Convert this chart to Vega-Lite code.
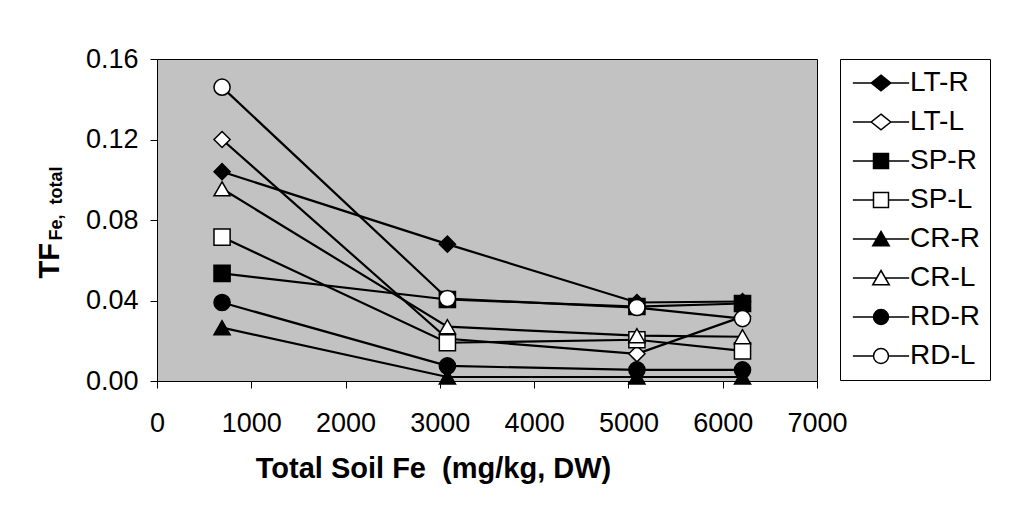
{
  "$schema": "https://vega.github.io/schema/vega-lite/v6.json",
  "width": 660,
  "height": 322,
  "autosize": {"type": "none"},
  "padding": {"left": 157, "top": 59, "right": 195, "bottom": 126},
  "background": "white",
  "config": {
    "font": "Liberation Sans",
    "view": {"stroke": "black", "strokeWidth": 1, "fill": "#c2c2c2"},
    "axis": {"grid": false, "domainColor": "black", "tickColor": "black", "labelColor": "black", "titleColor": "black", "labelFont": "Liberation Sans", "titleFont": "Liberation Sans"},
    "legend": {"strokeColor": "black", "fillColor": "white", "padding": 10, "labelFont": "Liberation Sans", "labelFontSize": 28, "labelColor": "black", "symbolSize": 225, "symbolOffset": 17, "labelOffset": 15, "rowPadding": 11, "offset": 23, "symbolOpacity": 1, "symbolStrokeWidth": 1.5}
  },
  "data": {
    "values": [
      {"series": "LT-R", "fe": 690, "tf": 0.104},
      {"series": "LT-R", "fe": 3080, "tf": 0.068},
      {"series": "LT-R", "fe": 5090, "tf": 0.039},
      {"series": "LT-R", "fe": 6210, "tf": 0.0395},
      {"series": "LT-L", "fe": 690, "tf": 0.120},
      {"series": "LT-L", "fe": 3080, "tf": 0.021},
      {"series": "LT-L", "fe": 5090, "tf": 0.0135},
      {"series": "LT-L", "fe": 6210, "tf": 0.032},
      {"series": "SP-R", "fe": 690, "tf": 0.0535},
      {"series": "SP-R", "fe": 3080, "tf": 0.0405},
      {"series": "SP-R", "fe": 5090, "tf": 0.037},
      {"series": "SP-R", "fe": 6210, "tf": 0.0385},
      {"series": "SP-L", "fe": 690, "tf": 0.0715},
      {"series": "SP-L", "fe": 3080, "tf": 0.019},
      {"series": "SP-L", "fe": 5090, "tf": 0.0205},
      {"series": "SP-L", "fe": 6210, "tf": 0.015},
      {"series": "CR-R", "fe": 690, "tf": 0.0265},
      {"series": "CR-R", "fe": 3080, "tf": 0.002},
      {"series": "CR-R", "fe": 5090, "tf": 0.002},
      {"series": "CR-R", "fe": 6210, "tf": 0.002},
      {"series": "CR-L", "fe": 690, "tf": 0.0955},
      {"series": "CR-L", "fe": 3080, "tf": 0.027},
      {"series": "CR-L", "fe": 5090, "tf": 0.0225},
      {"series": "CR-L", "fe": 6210, "tf": 0.022},
      {"series": "RD-R", "fe": 690, "tf": 0.039},
      {"series": "RD-R", "fe": 3080, "tf": 0.0075},
      {"series": "RD-R", "fe": 5090, "tf": 0.0055},
      {"series": "RD-R", "fe": 6210, "tf": 0.0055},
      {"series": "RD-L", "fe": 690, "tf": 0.146},
      {"series": "RD-L", "fe": 3080, "tf": 0.041},
      {"series": "RD-L", "fe": 5090, "tf": 0.0365},
      {"series": "RD-L", "fe": 6210, "tf": 0.031}
    ]
  },
  "layer": [
    {
      "mark": {"type": "line", "color": "black", "strokeWidth": 2.2},
      "encoding": {
        "x": {"field": "fe", "type": "quantitative", "scale": {"domain": [0, 7000], "nice": false},
          "axis": {"values": [0, 1000, 2000, 3000, 4000, 5000, 6000, 7000], "format": "d", "labelFontSize": 27, "labelFlush": false, "tickSize": 7, "labelPadding": 22, "title": "Total Soil Fe \u00a0(mg/kg, DW)", "titleFontSize": 29, "titleFontWeight": "bold", "titleX": 276, "titleY": 96, "titleBaseline": "alphabetic", "titleAlign": "center"}},
        "y": {"field": "tf", "type": "quantitative", "scale": {"domain": [0, 0.16], "nice": false},
          "axis": {"values": [0, 0.04, 0.08, 0.12, 0.16], "format": ".2f", "labelFontSize": 27, "tickSize": 7, "labelPadding": 12, "title": "TF", "titleFontSize": 29, "titleFontWeight": "bold", "titleAngle": -90, "titleX": -99, "titleY": 219, "titleAlign": "left", "titleBaseline": "alphabetic"}},
        "detail": {"field": "series"}
      }
    },
    {
      "mark": {"type": "point", "filled": true, "stroke": "black", "strokeWidth": 1.5, "size": 260, "opacity": 1},
      "encoding": {
        "x": {"field": "fe", "type": "quantitative"},
        "y": {"field": "tf", "type": "quantitative", "scale": {"domain": [0, 0.16], "nice": false},
          "axis": {"orient": "right", "labels": false, "ticks": false, "domain": false, "title": "Fe, \u00a0total", "titleFontSize": 18, "titleFontWeight": "bold", "titleAngle": -90, "titleX": -756, "titleY": 181, "titleAlign": "left", "titleBaseline": "alphabetic"}},
        "shape": {"field": "series", "type": "nominal",
          "scale": {"range": ["triangle-up", "triangle-up", "diamond", "diamond", "circle", "circle", "square", "square"]},
          "legend": null},
        "fill": {"field": "series", "type": "nominal",
          "scale": {"range": ["white", "black", "white", "black", "white", "black", "white", "black"]},
          "legend": null}
      }
    },
    {
      "mark": {"type": "point", "filled": true, "stroke": "black", "strokeWidth": 1.5, "opacity": 0},
      "encoding": {
        "x": {"field": "fe", "type": "quantitative"},
        "y": {"field": "tf", "type": "quantitative", "scale": {"domain": [0, 0.16], "nice": false}, "axis": null},
        "shape": {"field": "series", "type": "nominal",
          "scale": {"domain": ["LT-R", "LT-L", "SP-R", "SP-L", "CR-R", "CR-L", "RD-R", "RD-L"], "range": ["M-3.75,0H-1.3M1.3,0H3.75M0,-1.05L1.3,0L0,1.05L-1.3,0Z", "M-3.75,0H-1.3M1.3,0H3.75M0,-1.05L1.3,0L0,1.05L-1.3,0Z", "M-3.75,0H-1M1,0H3.75M-1,-1H1V1H-1Z", "M-3.75,0H-1M1,0H3.75M-1,-1H1V1H-1Z", "M-3.75,0H-0.58M0.58,0H3.75M0,-1L1.1,0.9L-1.1,0.9Z", "M-3.75,0H-0.58M0.58,0H3.75M0,-1L1.1,0.9L-1.1,0.9Z", "M-3.75,0H-1M1,0H3.75M-1,0A1,1,0,1,1,1,0A1,1,0,1,1,-1,0Z", "M-3.75,0H-1M1,0H3.75M-1,0A1,1,0,1,1,1,0A1,1,0,1,1,-1,0Z"]},
          "legend": {"title": null, "encode": {"symbols": {"stroke": {"value": "black"}, "strokeWidth": {"value": 1.5}, "opacity": {"value": 1}}}}},
        "fill": {"field": "series", "type": "nominal",
          "scale": {"domain": ["LT-R", "LT-L", "SP-R", "SP-L", "CR-R", "CR-L", "RD-R", "RD-L"], "range": ["black", "white", "black", "white", "black", "white", "black", "white"]},
          "legend": {"title": null, "encode": {"symbols": {"stroke": {"value": "black"}, "strokeWidth": {"value": 1.5}, "opacity": {"value": 1}}}}}
      }
    }
  ],
  "resolve": {"scale": {"y": "independent", "shape": "independent", "fill": "independent"}}
}
